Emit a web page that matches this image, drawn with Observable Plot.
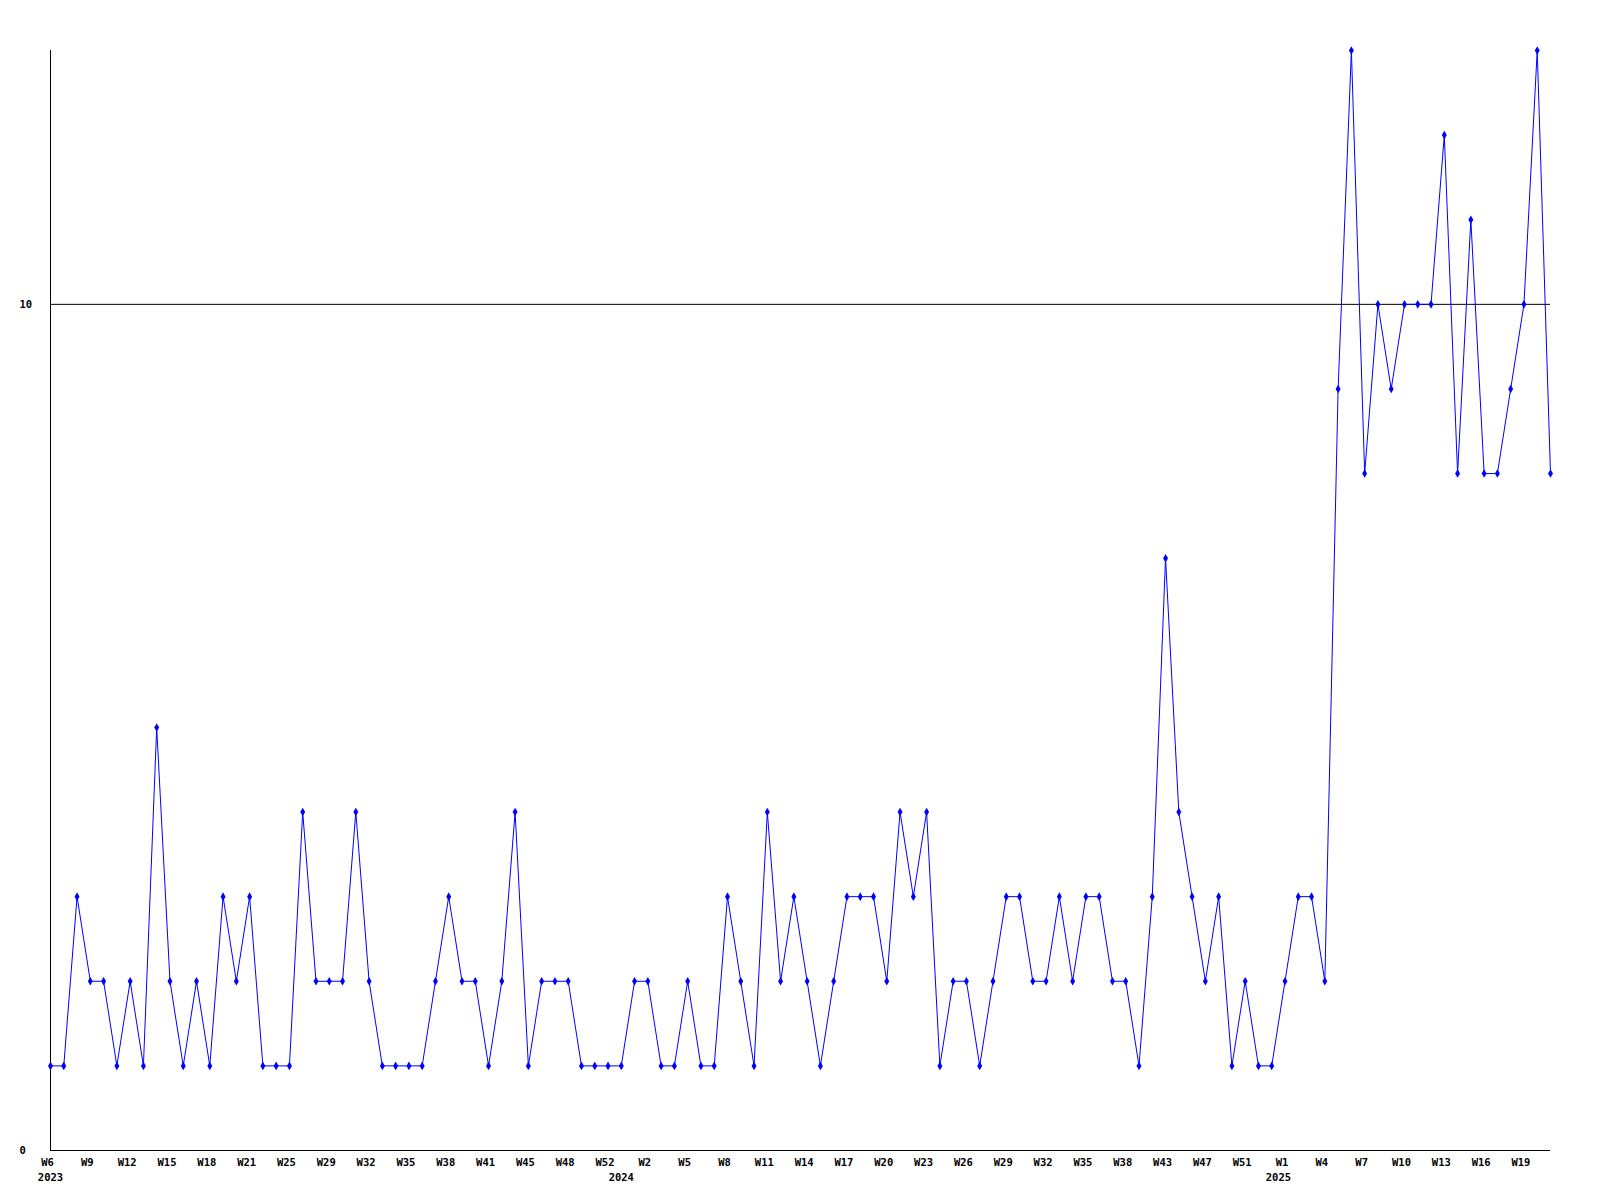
<!DOCTYPE html>
<html>
<head>
<meta charset="utf-8">
<script src="https://cdn.jsdelivr.net/npm/d3@7"></script>
<script src="https://cdn.jsdelivr.net/npm/@observablehq/plot@0.6"></script>
<style>
  html, body { margin: 0; padding: 0; background: #fff; }
</style>
</head>
<body>
<div id="chart"></div>
<script>
// Weekly counts, one per week shown on the chart (2023 W6 … 2025 W21)
const counts = [
  1,1,3,2,2,1,2,1,5,2,1,2,1,3,2,3,1,1,1,4,2,2,2,4,2,1,1,1,1,2,3,2,2,1,2,4,1,2,
  2,2,1,1,1,1,2,2,1,1,2,1,1,3,2,1,4,2,3,2,1,2,3,3,3,2,4,3,4,1,2,2,1,2,3,3,2,
  2,3,2,3,3,2,2,1,3,7,4,3,2,3,1,2,1,1,2,3,3,2,
  9,13,8,10,9,10,10,10,12,8,11,8,8,9,10,13,8
];

// Week tick labels (every third week point)
const tickLabels = [
  "W6","W9","W12","W15","W18","W21","W25","W29","W32","W35","W38","W41","W45","W48","W52",
  "W2","W5","W8","W11","W14","W17","W20","W23","W26","W29","W32","W35","W38","W43","W47","W51",
  "W1","W4","W7","W10","W13","W16","W19"
];
const tickEvery = 3;

// Year labels and the week point at which each year begins
const years = ["2023", "2024", "2025"];
const yearStart = [0, 43, 92.5];

// Y-axis labelled values
const yTicks = [0, 10];
const refLine = [10];

const points = counts.map((v, i) => ({i, v}));
const tickIdx = tickLabels.map((_, k) => k * tickEvery);
const yearData = years.map((y, k) => ({year: y, i: yearStart[k]}));

const chart = Plot.plot({
  width: 1600,
  height: 1200,
  marginLeft: 50,
  marginRight: 50,
  marginTop: 50,
  marginBottom: 50,
  style: {fontFamily: "'DejaVu Sans Mono', monospace", fontSize: "10.5px", fontWeight: "bold", background: "#fff", color: "#000"},
  x: {domain: [0, counts.length - 1]},
  y: {domain: [0, 13], axis: null},
  marks: [
    Plot.ruleY(refLine, {stroke: "#000", strokeWidth: 1}),
    Plot.ruleY([0], {stroke: "#000", strokeWidth: 1}),
    Plot.ruleX([0], {stroke: "#000", strokeWidth: 1}),
    Plot.line(points, {x: "i", y: "v", stroke: "#0000ff", strokeWidth: 1}),
    Plot.dot(points, {x: "i", y: "v", symbol: "diamond", r: 2.6, fill: "#0000ff", stroke: "none"}),
    Plot.axisX({
      ticks: tickIdx,
      tickFormat: i => tickLabels[i / tickEvery],
      tickSize: 0,
      tickPadding: 8,
      dx: -3,
      label: null,
      fill: "#000"
    }),
    Plot.text(yearData, {x: "i", text: "year", frameAnchor: "bottom", dy: 30, fill: "#000"}),
    Plot.text(yTicks, {y: d => d, text: d => String(d), frameAnchor: "left", dx: -31, textAnchor: "start", fill: "#000"})
  ]
});
document.getElementById("chart").appendChild(chart);
</script>
</body>
</html>
